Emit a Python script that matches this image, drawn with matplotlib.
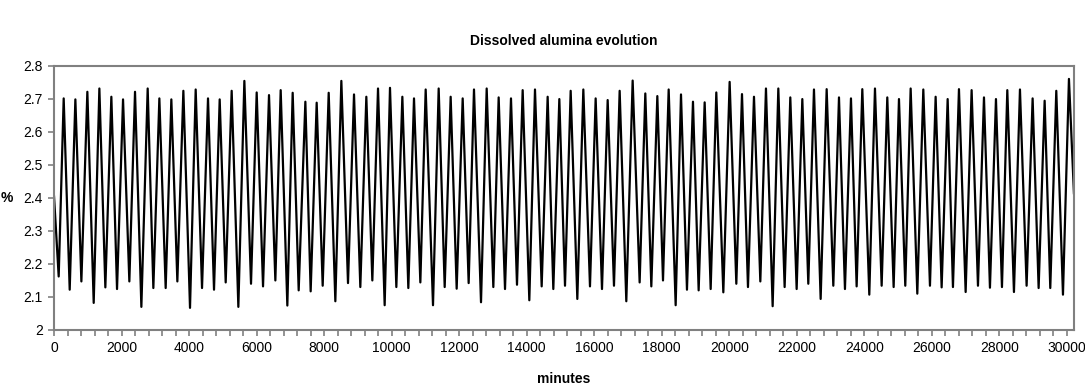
import numpy as np
import matplotlib.pyplot as plt
from matplotlib.ticker import MultipleLocator, FuncFormatter

# Turning points of the dissolved alumina signal (time in minutes, concentration in %)
minutes = [0, 138, 286, 464, 632, 810, 987, 1175, 1343, 1520, 1698, 1866, 2044, 2231,
           2399, 2587, 2774, 2942, 3120, 3307, 3475, 3653, 3831, 4028, 4196, 4384, 4561,
           4739, 4907, 5085, 5262, 5460, 5638, 5835, 6003, 6191, 6368, 6556, 6714, 6911,
           7069, 7247, 7445, 7602, 7780, 7958, 8136, 8333, 8511, 8708, 8886, 9073, 9251,
           9429, 9597, 9794, 9952, 10140, 10318, 10495, 10663, 10851, 11009, 11226, 11394,
           11572, 11749, 11927, 12105, 12282, 12440, 12648, 12816, 13013, 13171, 13359,
           13536, 13714, 13882, 14079, 14247, 14445, 14622, 14790, 14968, 15136, 15304,
           15501, 15679, 15876, 16044, 16232, 16400, 16587, 16755, 16952, 17140, 17347,
           17515, 17693, 17871, 18039, 18207, 18414, 18572, 18749, 18927, 19095, 19273,
           19451, 19618, 19826, 20013, 20211, 20379, 20556, 20734, 20922, 21089, 21287,
           21455, 21642, 21810, 21998, 22166, 22343, 22511, 22709, 22887, 23084, 23252,
           23429, 23607, 23775, 23943, 24150, 24318, 24516, 24683, 24871, 25029, 25216,
           25375, 25572, 25750, 25947, 26115, 26293, 26471, 26628, 26806, 27004, 27181,
           27369, 27547, 27724, 27902, 28080, 28238, 28435, 28613, 28810, 28988, 29166,
           29344, 29511, 29689, 29887, 30064, 30212]
alumina = [2.404, 2.162, 2.701, 2.122, 2.698, 2.147, 2.721, 2.082, 2.731, 2.129, 2.706,
           2.124, 2.698, 2.147, 2.721, 2.070, 2.731, 2.127, 2.701, 2.127, 2.698, 2.147,
           2.724, 2.067, 2.728, 2.127, 2.701, 2.122, 2.698, 2.144, 2.724, 2.070, 2.754,
           2.140, 2.719, 2.132, 2.711, 2.150, 2.726, 2.074, 2.718, 2.120, 2.691, 2.117,
           2.688, 2.134, 2.718, 2.087, 2.754, 2.142, 2.713, 2.130, 2.706, 2.150, 2.731,
           2.075, 2.733, 2.130, 2.706, 2.127, 2.701, 2.144, 2.728, 2.075, 2.731, 2.130,
           2.706, 2.125, 2.701, 2.142, 2.728, 2.084, 2.731, 2.130, 2.704, 2.124, 2.701,
           2.137, 2.726, 2.090, 2.728, 2.132, 2.706, 2.124, 2.699, 2.134, 2.724, 2.094,
           2.728, 2.132, 2.701, 2.124, 2.696, 2.134, 2.724, 2.087, 2.755, 2.144, 2.716,
           2.132, 2.708, 2.150, 2.728, 2.075, 2.713, 2.122, 2.691, 2.120, 2.689, 2.124,
           2.719, 2.114, 2.751, 2.140, 2.714, 2.130, 2.706, 2.147, 2.731, 2.072, 2.731,
           2.130, 2.704, 2.124, 2.699, 2.140, 2.728, 2.094, 2.729, 2.134, 2.704, 2.124,
           2.701, 2.132, 2.729, 2.107, 2.731, 2.134, 2.704, 2.130, 2.699, 2.134, 2.731,
           2.110, 2.728, 2.134, 2.706, 2.129, 2.699, 2.130, 2.729, 2.115, 2.726, 2.134,
           2.704, 2.128, 2.699, 2.130, 2.726, 2.115, 2.728, 2.134, 2.701, 2.127, 2.694,
           2.127, 2.724, 2.107, 2.760, 2.414]

plt.rcParams['font.family'] = ['Liberation Sans', 'DejaVu Sans']

fig = plt.figure(figsize=(10.85, 3.89), dpi=100)
ax = fig.add_axes([0.0498, 0.1517, 0.9401, 0.6794])

ax.plot(minutes, alumina, color='black', linewidth=1.6, solid_joinstyle='round')

ax.set_xlim(0, 30215)
ax.set_ylim(2.0, 2.8)
ax.xaxis.set_major_locator(MultipleLocator(2000))
ax.xaxis.set_minor_locator(MultipleLocator(400))
ax.yaxis.set_major_locator(MultipleLocator(0.1))
ax.yaxis.set_major_formatter(FuncFormatter(lambda v, p: '%g' % round(v, 1)))

gray = '#808080'
for s in ax.spines.values():
    s.set_color(gray)
    s.set_linewidth(1.5)
ax.tick_params(axis='both', which='both', direction='out', color=gray, width=1.2,
               labelsize=10, labelcolor='black')
ax.tick_params(axis='both', which='major', length=4, pad=4)
ax.tick_params(axis='x', which='minor', length=4)

ax.set_title('Dissolved alumina evolution', fontsize=10, fontweight='bold', pad=15)
ax.set_xlabel('minutes', fontsize=10, fontweight='bold', labelpad=12)
ax.set_ylabel('%', fontsize=10, fontweight='bold', rotation=0, labelpad=12, va='center')

fig.savefig('out.png', dpi=100)
